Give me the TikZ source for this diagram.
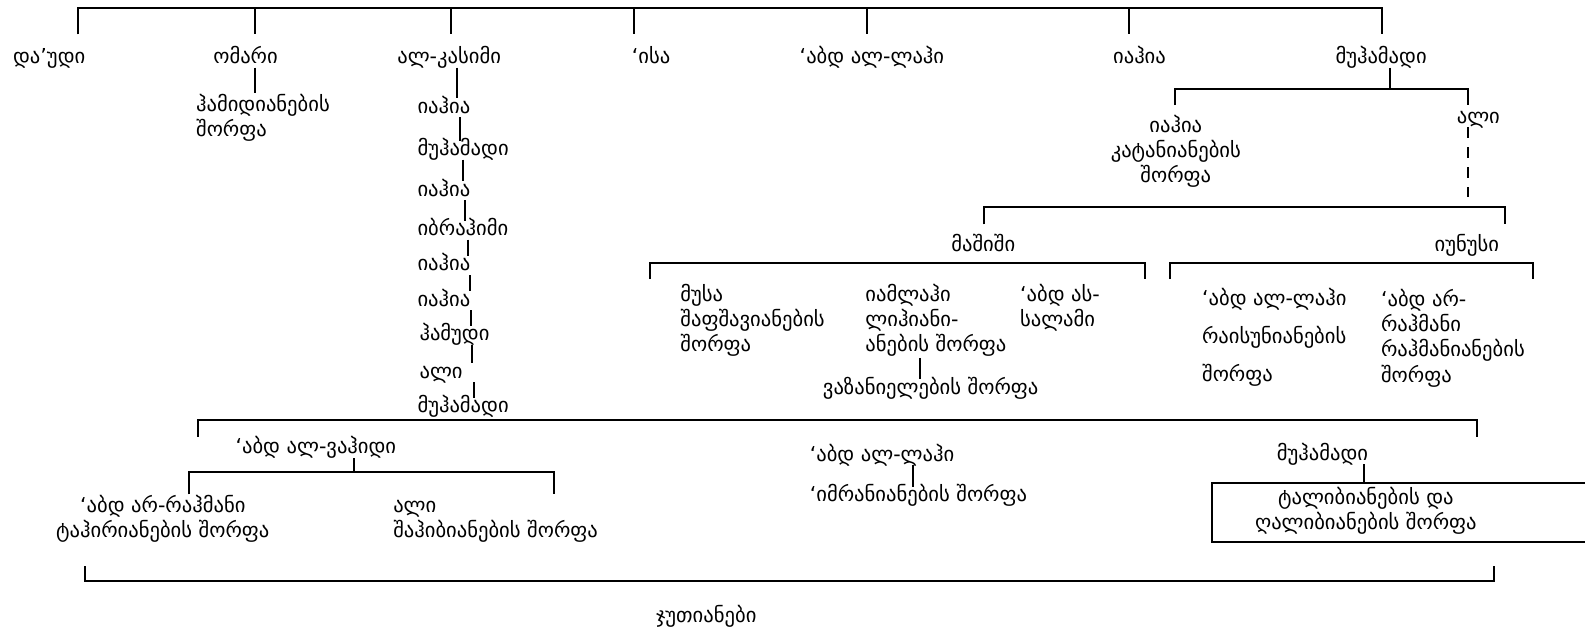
\documentclass[tikz,border=0pt]{standalone}
\usepackage{fontspec}
\setmainfont{DejaVu Sans}
\newcommand\geofont{\fontsize{10.3}{12.6}\selectfont}
\begin{document}
\begin{tikzpicture}[x=0.5pt,y=-0.5pt,line width=1pt,
  t/.style={inner sep=0pt,anchor=base west,font=\geofont},
  s/.style={t,text height=7pt,text depth=1.5pt},
  m/.style={t,align=left},
  mc/.style={inner sep=0pt,anchor=base,font=\geofont,align=center},
  br/.style={line width=1pt},
  dsh/.style={dash pattern=on 5.5pt off 4.5pt}]
\useasboundingbox (0,0) rectangle (1585,632);
\begin{scope}[scale=1.011]
% top level
\draw[br] (77,34) -- (77,8) -- (1367,8) -- (1367,34);
\foreach \x in {252,446,627,858,1117} \draw[br] (\x,8) -- (\x,34);
\node[s] (dawudi) at (12,63) {და’უდი};
\node[s] (omari) at (210,63) {ომარი};
\node[s] (qasim) at (392,63) {ალ-კასიმი};
\node[s] (isa) at (624,63) {‘ისა};
\node[s] (abd1) at (790,63) {‘აბდ ალ-ლაჰი};
\node[s] (yahya0) at (1100,63) {იაჰია};
\node[s] (muh0) at (1320,63) {მუჰამადი};
% omar
\node[m] (hamid) at (193,135) {ჰამიდიანების\\შორფა};
\draw (omari.south -| 252,0) -- (hamid.north -| 252,0);
% al-qasim chain
\node[s] (q1) at (412,112) {იაჰია};
\node[s] (q2) at (412,154) {მუჰამადი};
\node[s] (q3) at (412,194) {იაჰია};
\node[s] (q4) at (412,233) {იბრაჰიმი};
\node[s] (q5) at (412,268) {იაჰია};
\node[s] (q6) at (412,303) {იაჰია};
\node[s] (q7) at (414,337) {ჰამუდი};
\node[s] (q8) at (414,374) {ალი};
\node[s] (q9) at (412,408) {მუჰამადი};
\draw (qasim.south -| 452,0) -- (q1.north -| 452,0);
\draw (q1.south -| 455,0) -- (q2.north -| 455,0);
\draw (q2.south -| 458,0) -- (q3.north -| 458,0);
\draw (q3.south -| 460,0) -- (q4.north -| 460,0);
\draw (q4.south -| 463,0) -- (q5.north -| 463,0);
\draw (q5.south -| 465,0) -- (q6.north -| 465,0);
\draw (q6.south -| 466,0) -- (q7.north -| 466,0);
\draw (q7.south -| 467,0) -- (q8.north -| 467,0);
\draw (q8.south -| 469,0) -- (q9.north -| 469,0);
% muhammad branch
\coordinate (mb) at (1375,88);
\draw (muh0.south -| mb) -- (mb);
\draw[br] (1162,104) -- (1162,88) -- (1452,88) -- (1452,104);
\node[mc] (katani) at (1163,181) {იაჰია\\კატანიანების\\შორფა};
\node[s] (ali2) at (1440,122) {ალი};
\coordinate (dend) at (1452,195);
\draw[dsh] (ali2.south -| dend) -- (dend);
\draw[br] (973,222) -- (973,205) -- (1489,205) -- (1489,222);
\node[s] (mashishi) at (940,249) {მაშიში};
\node[s] (iunusi) at (1418,249) {იუნუსი};
\draw[br] (643,276) -- (643,260) -- (1133,260) -- (1133,276);
\draw[br] (1157,276) -- (1157,260) -- (1516,260) -- (1516,276);
\node[m] (musa) at (672,348) {მუსა\\შაფშავიანების\\შორფა};
\node[m] (yamlahi) at (855,348) {იამლაჰი\\ლიჰიანი-\\ანების შორფა};
\node[m] (abdsalam) at (1008,323) {‘აბდ ას-\\სალამი};
\node[s] (vazan) at (813,390) {ვაზანიელების შორფა};
\draw (yamlahi.south -| 910,0) -- (vazan.north -| 910,0);
\node[m] (raisuni) at (1188,377) {‘აბდ ალ-ლაჰი\\[6.25pt]რაისუნიანების\\[6.25pt]შორფა};
\node[m] (rahmani) at (1365,378) {‘აბდ არ-\\რაჰმანი\\რაჰმანიანების\\შორფა};
% lower part
\draw[br] (196,432) -- (196,415) -- (1461,415) -- (1461,432);
\node[s] (wahid) at (232,449) {‘აბდ ალ-ვაჰიდი};
\coordinate (wb) at (350,467);
\draw (wahid.south -| wb) -- (wb);
\draw[br] (187,489) -- (187,467) -- (548,467) -- (548,489);
\node[mc] (tahiri) at (161,532) {‘აბდ არ-რაჰმანი\\ტაჰირიანების შორფა};
\node[m] (shahib) at (388,532) {ალი\\შაჰიბიანების შორფა};
\node[s] (abd3) at (800,456) {‘აბდ ალ-ლაჰი};
\node[s] (imran) at (800,496) {‘იმრანიანების შორფა};
\draw (abd3.south -| 903,0) -- (imran.north -| 903,0);
\node[s] (muh3) at (1262,455) {მუჰამადი};
\coordinate (boxtl) at (1199,478);
\coordinate (boxbl) at (1199,536);
\coordinate (boxr) at (1568,0);
\draw[br] (boxtl -| boxr) -- (boxtl) -- (boxbl) -- (boxbl -| boxr);
\draw (muh3.south -| 1349,0) -- (boxtl -| 1349,0);
\node[mc] (talib) at (1351,524) {ტალიბიანების და\\ღალიბიანების შორფა};
% bottom bracket
\draw[br] (84,560) -- (84,575) -- (1478,575) -- (1478,560);
\node[s] (juti) at (648,616) {ჯუთიანები};
\end{scope}
\end{tikzpicture}
\end{document}
